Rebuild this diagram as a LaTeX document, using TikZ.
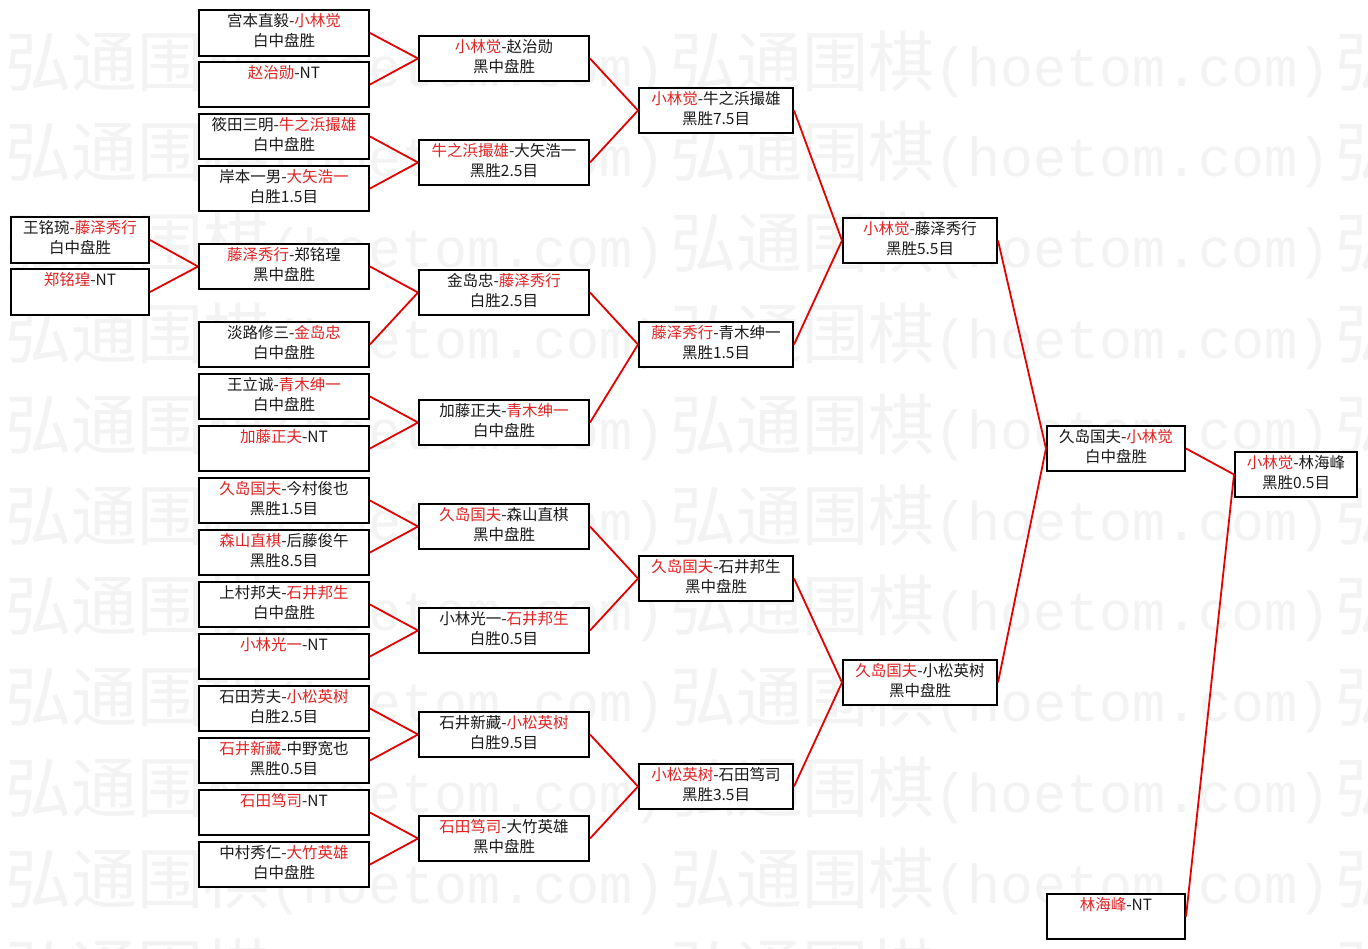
\documentclass[tikz,border=0pt]{standalone}
\usepackage{fontspec}
\newfontfamily\cjk{Noto Sans CJK SC}
\newfontfamily\wmmono{Liberation Mono}
\definecolor{nred}{RGB}{225,35,35}
\definecolor{lred}{RGB}{230,0,0}
\definecolor{wmgray}{RGB}{243,243,243}
\newcommand\R[1]{\textcolor{nred}{#1}}
\tikzset{
  gbox/.style={draw=black, line width=2pt, fill=white, inner sep=0pt, align=center,
    font=\cjk\fontsize{15.5}{20}\selectfont, text=black!90},
  conn/.style={draw=lred, line width=1.8pt},
  wm/.style={anchor=west, inner sep=0pt, text=wmgray}
}
\newcommand\gb[7]{\node[gbox, minimum width={#4-#2}, minimum height={#5-#3}] (#1) at ({(#2+#4)/2},{(#3+#5)/2}) {\strut#6\\\strut#7};}
\begin{document}
\begin{tikzpicture}[x=1pt,y=-1pt]
\fill[white] (0,0) rectangle (1368,949);
\useasboundingbox (0,0) rectangle (1368,949);
% watermark
\begin{scope}
\clip (0,0) rectangle (1368,949);
\foreach \k in {0,...,10}{
  \foreach \j in {0,1,2}{
    \node[wm] (wm-\k-\j) at ({5+665*\j},{64+90.8*\k}) {{\cjk\fontsize{66}{70}\selectfont 弘通围棋}{\wmmono\fontsize{55}{60}\selectfont (hoetom.com)}};
  }
}
\end{scope}
% column 0
\gb{z1}{11}{217}{149}{263}{王铭琬-\R{藤泽秀行}}{白中盘胜}
\gb{z2}{11}{269}{149}{315}{\R{郑铭瑝}-NT}{}
% column 1
\gb{b1}{199}{10}{369}{56}{宫本直毅-\R{小林觉}}{白中盘胜}
\gb{b2}{199}{62}{369}{107}{\R{赵治勋}-NT}{}
\gb{b3}{199}{114}{369}{159}{筱田三明-\R{牛之浜撮雄}}{白中盘胜}
\gb{b4}{199}{166}{369}{211}{岸本一男-\R{大矢浩一}}{白胜1.5目}
\gb{b5}{199}{244}{369}{289}{\R{藤泽秀行}-郑铭瑝}{黑中盘胜}
\gb{b6}{199}{322}{369}{367}{淡路修三-\R{金岛忠}}{白中盘胜}
\gb{b7}{199}{374}{369}{419}{王立诚-\R{青木绅一}}{白中盘胜}
\gb{b8}{199}{426}{369}{471}{\R{加藤正夫}-NT}{}
\gb{b9}{199}{478}{369}{523}{\R{久岛国夫}-今村俊也}{黑胜1.5目}
\gb{b10}{199}{530}{369}{575}{\R{森山直棋}-后藤俊午}{黑胜8.5目}
\gb{b11}{199}{582}{369}{627}{上村邦夫-\R{石井邦生}}{白中盘胜}
\gb{b12}{199}{634}{369}{679}{\R{小林光一}-NT}{}
\gb{b13}{199}{686}{369}{731}{石田芳夫-\R{小松英树}}{白胜2.5目}
\gb{b14}{199}{738}{369}{783}{\R{石井新藏}-中野宽也}{黑胜0.5目}
\gb{b15}{199}{790}{369}{835}{\R{石田笃司}-NT}{}
\gb{b16}{199}{842}{369}{887}{中村秀仁-\R{大竹英雄}}{白中盘胜}
% column 2
\gb{c1}{419}{36}{589}{81}{\R{小林觉}-赵治勋}{黑中盘胜}
\gb{c2}{419}{140}{589}{185}{\R{牛之浜撮雄}-大矢浩一}{黑胜2.5目}
\gb{c3}{419}{270}{589}{315}{金岛忠-\R{藤泽秀行}}{白胜2.5目}
\gb{c4}{419}{400}{589}{445}{加藤正夫-\R{青木绅一}}{白中盘胜}
\gb{c5}{419}{504}{589}{549}{\R{久岛国夫}-森山直棋}{黑中盘胜}
\gb{c6}{419}{608}{589}{653}{小林光一-\R{石井邦生}}{白胜0.5目}
\gb{c7}{419}{712}{589}{757}{石井新藏-\R{小松英树}}{白胜9.5目}
\gb{c8}{419}{816}{589}{861}{\R{石田笃司}-大竹英雄}{黑中盘胜}
% column 3
\gb{d1}{639}{88}{793}{133}{\R{小林觉}-牛之浜撮雄}{黑胜7.5目}
\gb{d2}{639}{322}{793}{367}{\R{藤泽秀行}-青木绅一}{黑胜1.5目}
\gb{d3}{639}{556}{793}{601}{\R{久岛国夫}-石井邦生}{黑中盘胜}
\gb{d4}{639}{764}{793}{809}{\R{小松英树}-石田笃司}{黑胜3.5目}
% column 4
\gb{e1}{843}{218}{997}{263}{\R{小林觉}-藤泽秀行}{黑胜5.5目}
\gb{e2}{843}{660}{997}{705}{\R{久岛国夫}-小松英树}{黑中盘胜}
% column 5
\gb{f1}{1047}{426}{1185}{471}{久岛国夫-\R{小林觉}}{白中盘胜}
\gb{f2}{1047}{894}{1185}{939}{\R{林海峰}-NT}{}
% column 6
\gb{g1}{1235}{452}{1357}{497}{\R{小林觉}-林海峰}{黑胜0.5目}
% connectors
\foreach \a/\p in {z1/b5,z2/b5,b1/c1,b2/c1,b3/c2,b4/c2,b5/c3,b6/c3,b7/c4,b8/c4,
  b9/c5,b10/c5,b11/c6,b12/c6,b13/c7,b14/c7,b15/c8,b16/c8,
  c1/d1,c2/d1,c3/d2,c4/d2,c5/d3,c6/d3,c7/d4,c8/d4,
  d1/e1,d2/e1,d3/e2,d4/e2,e1/f1,e2/f1,f1/g1,f2/g1}{
  \draw[conn] (\a.east) -- (\p.west);
}
\end{tikzpicture}
\end{document}
